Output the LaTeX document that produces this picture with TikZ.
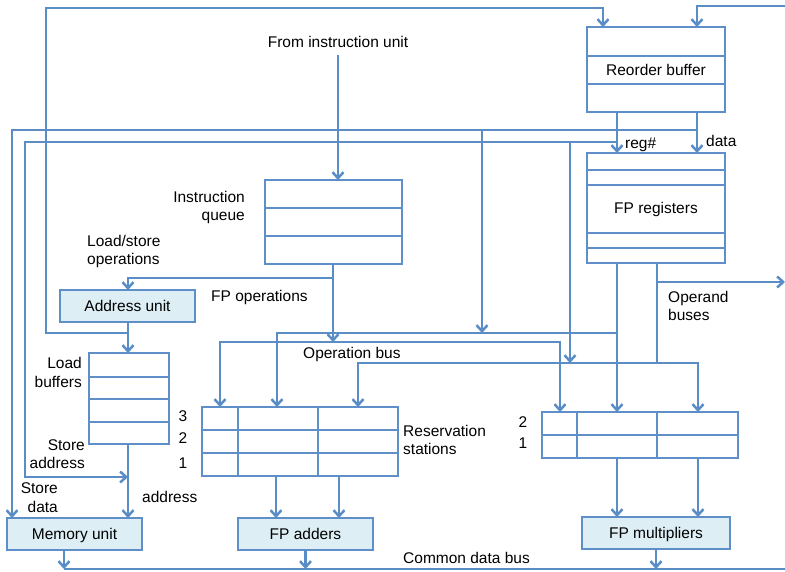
\documentclass[tikz,border=0pt]{standalone}
\usepackage{fontspec}
\setmainfont{Liberation Sans}
\usetikzlibrary{arrows.meta}
\definecolor{ln}{HTML}{5A8CC6}
\definecolor{bx}{HTML}{5F8FC8}
\definecolor{ufill}{HTML}{DDEEF5}
\begin{document}
\begin{tikzpicture}[x=1pt,y=-1pt,
  conn/.style={draw=ln, line width=2.5pt},
  arr/.style={conn, -{Straight Barb[length=6pt,width=11pt]}},
  arrboth/.style={conn, {Straight Barb[length=6pt,width=11pt]}-{Straight Barb[length=6pt,width=11pt]}},
  box/.style={draw=bx, line width=1.3pt, fill=white, anchor=north west, inner sep=0pt, outer sep=0pt,
              font=\fontsize{15.5}{18}\selectfont, text height=11.2pt, text depth=0pt},
  unit/.style={box, fill=ufill},
  lbl/.style={font=\fontsize{15.5}{18}\selectfont, inner sep=0pt},
  div/.style={draw=bx, line width=1.3pt}]
\useasboundingbox (0,0) rectangle (785,571);

% ---------- boxes ----------
\node[box, minimum width=138pt, minimum height=85pt] (rob) at (587,27) {Reorder buffer};
\node[box, minimum width=138pt, minimum height=110pt] (fpr) at (587,153) {FP registers};
\node[box, minimum width=137pt, minimum height=84pt] (iq) at (265,180) {};
\node[unit, minimum width=135pt, minimum height=32pt] (au) at (60,290) {Address unit};
\node[box, minimum width=80pt, minimum height=91pt] (lb) at (89,353) {};
\node[unit, minimum width=135pt, minimum height=32pt] (mu) at (7,518) {Memory unit};
\node[box, minimum width=196pt, minimum height=69pt] (rsa) at (202,407) {};
\node[unit, minimum width=135pt, minimum height=32pt] (fpa) at (238,518) {FP adders};
\node[box, minimum width=196pt, minimum height=46pt] (rsm) at (542,412) {};
\node[unit, minimum width=148pt, minimum height=32pt] (fpm) at (582,517) {FP multipliers};

% dividers
\foreach \yy in {56,84} \draw[div] (rob.west |- 0,\yy) -- (rob.east |- 0,\yy);
\foreach \yy in {170,185,233,248} \draw[div] (fpr.west |- 0,\yy) -- (fpr.east |- 0,\yy);
\foreach \yy in {208,236} \draw[div] (iq.west |- 0,\yy) -- (iq.east |- 0,\yy);
\foreach \yy in {377,399,422} \draw[div] (lb.west |- 0,\yy) -- (lb.east |- 0,\yy);
\foreach \yy in {430,453} \draw[div, line width=1.7pt] (rsa.west |- 0,\yy) -- (rsa.east |- 0,\yy);
\foreach \xx in {238,318} \draw[div] (rsa.north -| \xx,0) -- (rsa.south -| \xx,0);
\draw[div, line width=1.7pt] (rsm.west |- 0,435) -- (rsm.east |- 0,435);
\foreach \xx in {577,657} \draw[div] (rsm.north -| \xx,0) -- (rsm.south -| \xx,0);

% ---------- labels ----------
\node[lbl, anchor=base] (fiu) at (338,47) {From instruction unit};
\node[lbl, anchor=base east] (iqa) at (245,202) {Instruction};
\node[lbl, anchor=base east] (iqb) at (245,220) {queue};
\node[lbl, anchor=base west] (lsa) at (87,246) {Load/store};
\node[lbl, anchor=base west] (lsb) at (87,264) {operations};
\node[lbl, anchor=base west] (fpo) at (211,301) {FP operations};
\node[lbl, anchor=base west] (opl) at (303,358) {Operation bus};
\node[lbl, anchor=base west] (oba) at (668,302) {Operand};
\node[lbl, anchor=base west] (obb) at (668,320) {buses};
\node[lbl, anchor=base west] (regl) at (625,148) {reg\#};
\node[lbl, anchor=base west] (datl) at (706,146) {data};
\node[lbl, anchor=base east] (lba) at (82,368) {Load};
\node[lbl, anchor=base east] (lbb) at (82,387) {buffers};
\node[lbl, anchor=base east] (saa) at (85,450) {Store};
\node[lbl, anchor=base east] (sab) at (85,468) {address};
\node[lbl, anchor=base east] (sda) at (58,493) {Store};
\node[lbl, anchor=base east] (sdb) at (58,512) {data};
\node[lbl, anchor=base west] (adl) at (142,502) {address};
\node[lbl, anchor=base] (n3) at (183,421) {3};
\node[lbl, anchor=base] (n2) at (183,443) {2};
\node[lbl, anchor=base] (n1) at (183,468) {1};
\node[lbl, anchor=base] (m2) at (523,427) {2};
\node[lbl, anchor=base] (m1) at (523,448) {1};
\node[lbl, anchor=base west] (rsl1) at (403,436) {Reservation};
\node[lbl, anchor=base west] (rsl2) at (403,454) {stations};
\node[lbl, anchor=base west] (cdbl) at (403,563) {Common data bus};

% ---------- coordinates ----------
\coordinate (jAU) at (128,333);
\coordinate (cTopL) at (46,8);
\coordinate (inR) at (785,6);
\coordinate (fiuOut) at (338,55);
\coordinate (jIQ) at (333,278);
\coordinate (opIn) at (333,342);
\coordinate (opL) at (220,342);
\coordinate (opR) at (560,342);
\coordinate (cdbA) at (697,130);
\coordinate (cdbAL) at (12,130);
\coordinate (cdbB) at (617,142);
\coordinate (cdbBL) at (25,142);
\coordinate (jSA) at (25,477);
\coordinate (jSAend) at (128,477);
\coordinate (tapA) at (482,130);
\coordinate (tapB) at (570,142);
\coordinate (bus1L) at (277,333);
\coordinate (bus1R) at (617,333);
\coordinate (bus1In) at (482,333);
\coordinate (bus2L) at (358,363);
\coordinate (bus2R) at (698,363);
\coordinate (bus2In) at (570,363);
\coordinate (bus2J) at (657,363);
\coordinate (opb) at (657,282);
\coordinate (opbEnd) at (785,282);
\coordinate (cdbL) at (64,569);
\coordinate (cdbR) at (785,569);

% ---------- connectors ----------
\draw[arr] (jAU) -| (cTopL) -| (rob.north -| 603,0);
\draw[arr] (inR) -| (rob.north -| 697,0);
\draw[arr] (fiuOut) -- (iq.north -| fiuOut);
\draw[arr] (iq.south -| opIn) -- (opIn);
\draw[arr] (jIQ) -| (au.north -| jAU);
\draw[arr] (au.south -| jAU) -- (lb.north -| jAU);
\draw[arr] (rob.south -| 617,0) -- (fpr.north -| 617,0);
\draw[arr] (rob.south -| 697,0) -- (fpr.north -| 697,0);
\draw[arr] (cdbA) -- (cdbAL) -- (mu.north -| cdbAL);
\draw[arr] (tapA) -- (bus1In);
\draw[arr] (cdbB) -- (cdbBL) -- (jSA) -- (jSAend);
\draw[arr] (tapB) -- (bus2In);
\draw[arr] (fpr.south -| bus1R) -- (rsm.north -| bus1R);
\draw[arr] (bus1R) -- (bus1L) -- (rsa.north -| bus1L);
\draw[conn] (fpr.south -| bus2J) -- (bus2J);
\draw[arr] (opb) -- (opbEnd);
\draw[arrboth] (rsa.north -| bus2L) -- (bus2L) -- (bus2R) -- (rsm.north -| bus2R);
\draw[arrboth] (rsa.north -| opL) -- (opL) -- (opR) -- (rsm.north -| opR);
\draw[arr] (lb.south -| jAU) -- (mu.north -| jAU);
\draw[arr] (rsa.south -| 276,0) -- (fpa.north -| 276,0);
\draw[arr] (rsa.south -| 339,0) -- (fpa.north -| 339,0);
\draw[arr] (rsm.south -| 617,0) -- (fpm.north -| 617,0);
\draw[arr] (rsm.south -| 698,0) -- (fpm.north -| 698,0);
\draw[conn, line width=2pt] (cdbL) -- (cdbR);
\draw[arr] (mu.south -| cdbL) -- (cdbL);
\draw[arr] (fpa.south) -- (fpa.south |- cdbL);
\draw[arr] (fpm.south) -- (fpm.south |- cdbL);
\end{tikzpicture}
\end{document}
